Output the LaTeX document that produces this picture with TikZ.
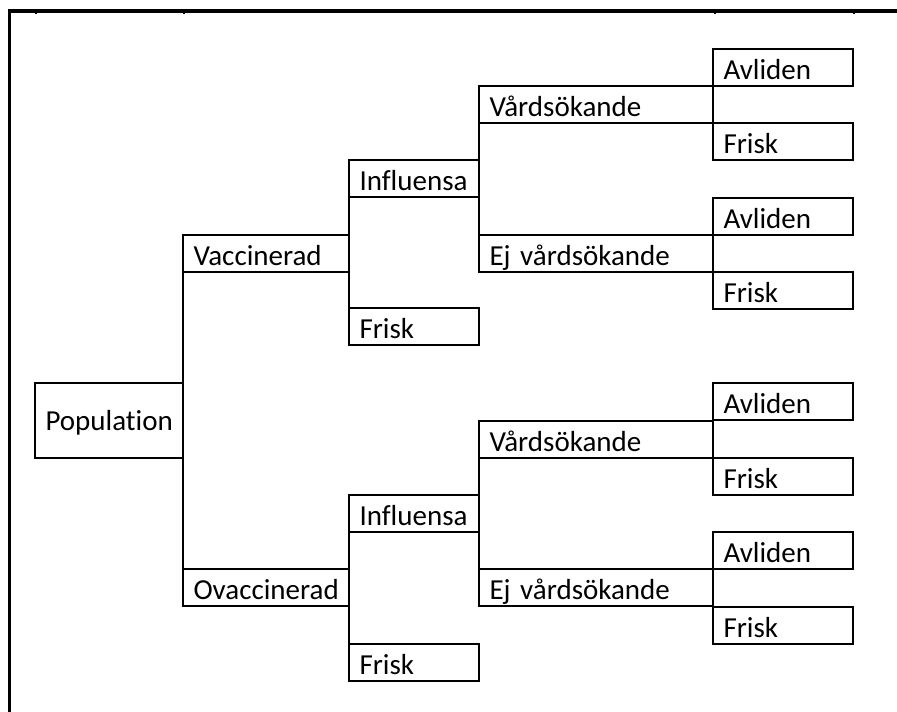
\documentclass[tikz,border=0pt]{standalone}
\usepackage{fontspec}
\setmainfont{Carlito}[Ligatures=NoCommon]
\begin{document}
\begin{tikzpicture}[x=1pt,y=-1pt,
  base/.style={draw, line width=2.8pt, outer sep=0pt, anchor=north west, inner xsep=10.5pt, inner ysep=0pt,
    minimum height=37pt, text height=23pt, text depth=0pt, align=left,
    font=\fontsize{29}{31}\selectfont},
  cA/.style={base, text width=127pt, minimum height=75pt, text height=19pt},
  cB/.style={base, text width=145pt},
  cC/.style={base, text width=109pt},
  cD/.style={base, text width=213pt},
  cE/.style={base, text width=119pt},
  link/.style={line width=2.8pt, line cap=rect},
  frame/.style={line width=3.2pt},
  tick/.style={line width=1.4pt}]
\useasboundingbox (0,0) rectangle (897,712);
% frame
\coordinate (ftr) at (897,11);
\coordinate (ftl) at (8.2,11);
\coordinate (fbl) at (9.8,712);
\draw[frame] (ftr) -- (ftl);
\draw[frame] (9.8,9.4) -- (fbl);
\foreach \tx in {36,184,715,854} \draw[tick] (\tx,11) -- (\tx,13.5);
% level 0
\node[cA] (pop) at (35,383) {Population};
% level 1
\node[cB] (vac) at (183,235) {Vaccinerad};
\node[cB] (ovac) at (183,569) {Ovaccinerad};
% level 2
\node[cC] (inf1) at (349,160) {Influensa};
\node[cC] (fr1) at (349,308) {Frisk};
\node[cC] (inf2) at (349,495) {Influensa};
\node[cC] (fr2) at (349,644) {Frisk};
% level 3
\node[cD] (vs1) at (479,86) {Vårdsökande};
\node[cD] (ej1) at (479,235) {Ej vårdsökande};
\node[cD] (vs2) at (479,421) {Vårdsökande};
\node[cD] (ej2) at (479,569) {Ej vårdsökande};
% level 4
\node[cE] (av1) at (713,49) {Avliden};
\node[cE] (f1) at (713,123) {Frisk};
\node[cE] (av2) at (713,198) {Avliden};
\node[cE] (f2) at (713,272) {Frisk};
\node[cE] (av3) at (713,383) {Avliden};
\node[cE] (f3) at (713,458) {Frisk};
\node[cE] (av4) at (713,532) {Avliden};
\node[cE] (f4) at (713,607) {Frisk};
% connectors
\draw[link] (vac.south west) -- (pop.north east);
\draw[link] (pop.south east) -- (ovac.north west);
\draw[link] (inf1.south west) -- (fr1.north west);
\draw[link] (inf2.south west) -- (fr2.north west);
\draw[link] (vs1.south west) -- (ej1.north west);
\draw[link] (vs2.south west) -- (ej2.north west);
\draw[link] (av1.south west) -- (f1.north west);
\draw[link] (av2.south west) -- (f2.north west);
\draw[link] (av3.south west) -- (f3.north west);
\draw[link] (av4.south west) -- (f4.north west);
\end{tikzpicture}
\end{document}
